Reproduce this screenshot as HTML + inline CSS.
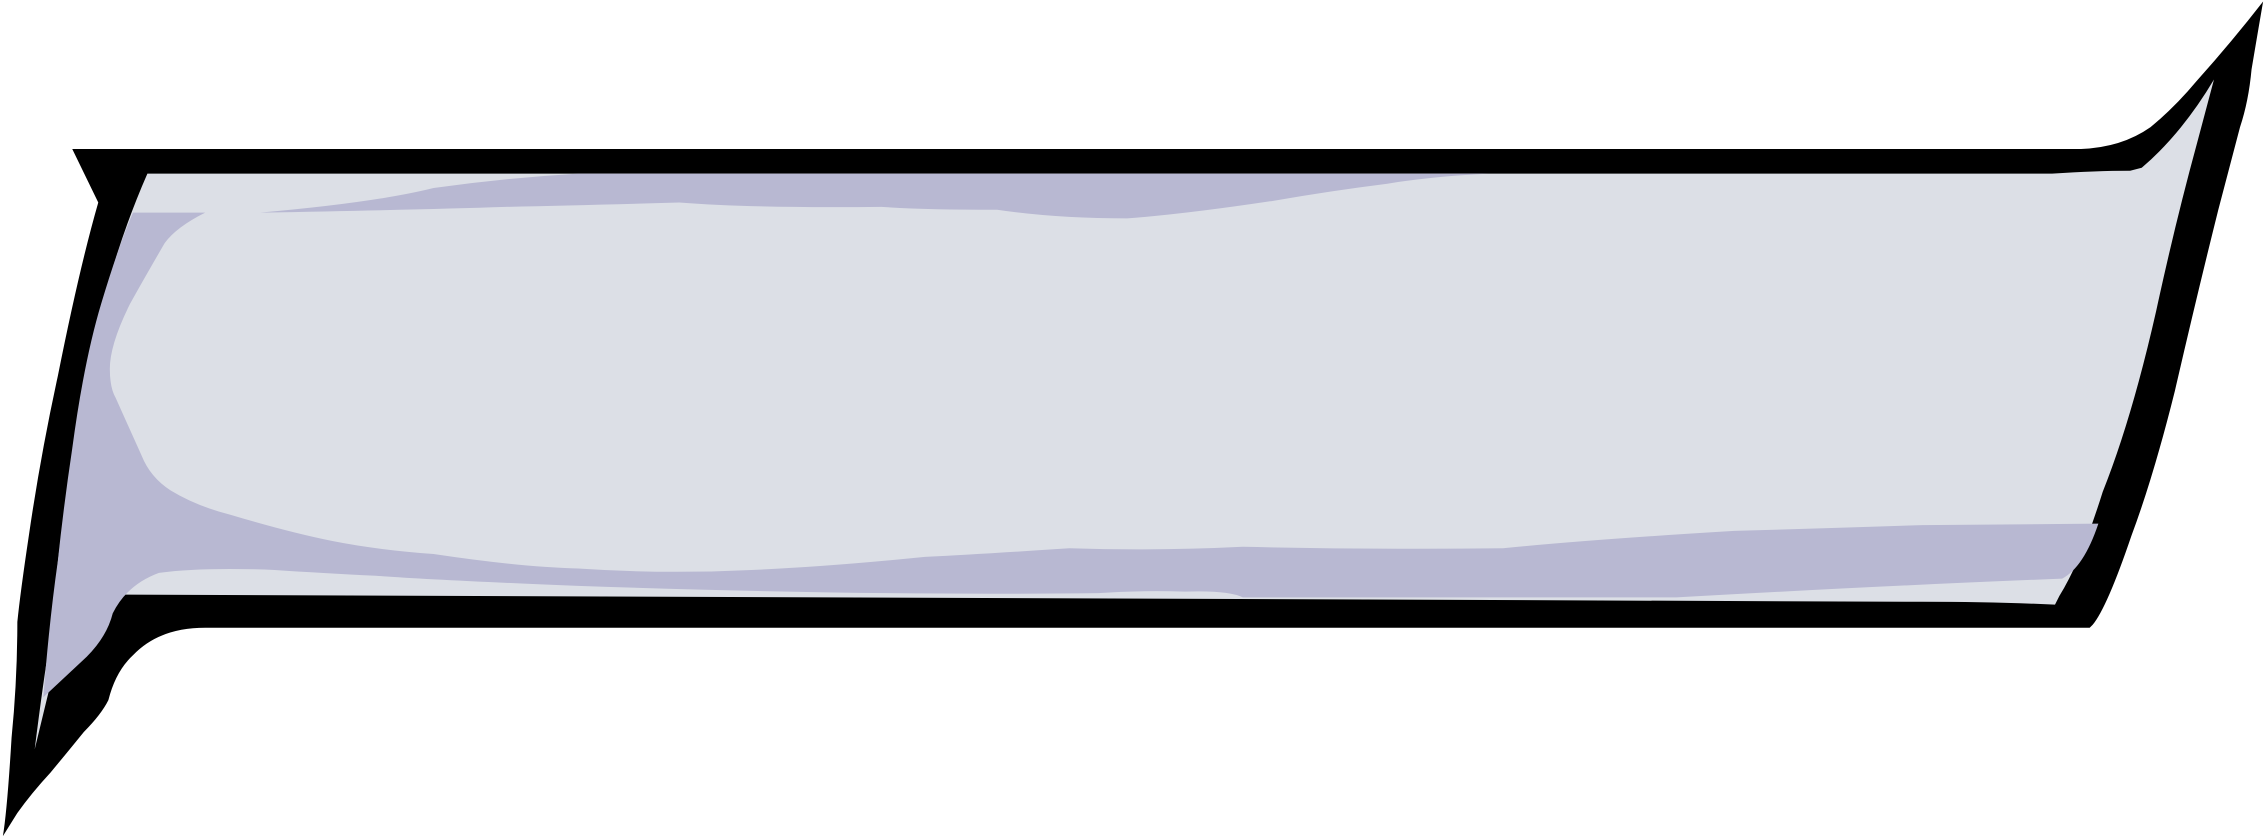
<!DOCTYPE html>
<html><head><meta charset="utf-8"><style>
html,body{margin:0;padding:0;background:#fff;}
svg{display:block;}
</style></head><body>
<svg width="2266" height="839" viewBox="0 0 1568 580" preserveAspectRatio="none" xmlns="http://www.w3.org/2000/svg">
<path fill="#000" d="M50,103 L1440,103 Q1468,102 1488,88 Q1505,74 1520,56 Q1545,28 1566,1 Q1561,30 1558,48 Q1556,70 1550,88 L1535,145 Q1520,205 1505,270 Q1490,330 1475,370 Q1458,420 1448,432 L1446,434 L142,434 Q110,434 92,453 Q80,464 75,484 Q70,494 58,506 Q45,522 35,534 Q22,548 12,562 L2,578 Q5,560 8,510 Q12,470 12,430 Q14,410 20,370 Q28,315 40,260 Q55,185 68,140 Z"/>
<path fill="#dcdfe6" d="M102,120 L1420,120 Q1450,118 1474,118 L1482,116 Q1510,92 1532,55 L1520,100 Q1505,155 1492,215 Q1475,290 1455,340 Q1440,388 1425,412 L1422,418 Q1380,416 1330,416 L72,411 Q55,440 40,452 L24,518 Q30,470 35,440 Q38,400 45,350 Q55,290 66,230 Q80,170 102,120 Z"/>
<path fill="#b8b8d2" d="M102,120 L1030,120 Q990,122 960,127 Q920,132 880,139 Q820,148 780,151 Q730,151 690,145 Q640,145 610,143 Q520,144 470,140 Q400,142 350,143 Q290,145 180,147 Q260,140 300,130 Q350,123 400,120 Z"/>
<path fill="#b8b8d2" d="M92,147 L142,147 Q122,157 114,168 Q100,192 90,210 Q76,238 76,255 Q76,268 80,275 L98,315 Q104,330 118,339 Q136,350 160,356 Q200,368 230,374 Q260,380 300,383 Q360,392 400,393 Q460,397 520,394 Q570,392 640,385 Q680,383 740,379 Q800,381 860,378 Q950,380 1040,379 Q1100,373 1200,367 Q1270,365 1330,363 L1452,362 Q1442,392 1427,400 Q1300,405 1160,413 L860,413 Q850,408 820,409 Q790,408 760,410 Q600,412 400,405 Q300,401 260,398 Q220,396 190,394 Q140,392 110,396 Q88,404 78,424 Q74,440 60,454 L30,482 Q34,430 40,388 Q44,350 50,310 Q58,250 70,210 Q82,170 92,147 Z"/>
</svg>
</body></html>
